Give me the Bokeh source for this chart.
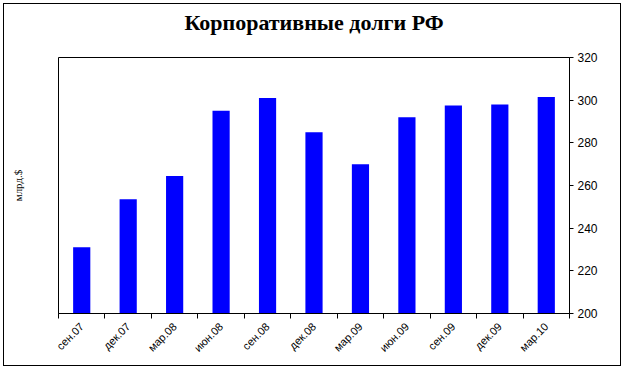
from bokeh.plotting import figure
from bokeh.models import Range1d, FixedTicker, LinearAxis
from bokeh.embed import file_html
from bokeh.resources import INLINE
import math

categories = ["сен.07", "дек.07", "мар.08", "июн.08", "сен.08", "дек.08",
              "мар.09", "июн.09", "сен.09", "дек.09", "мар.10"]
values = [231, 253.5, 264.5, 295, 301, 285, 270, 292, 297.5, 298, 301.5]
y_ticks = [200, 220, 240, 260, 280, 300, 320]
title_text = "Корпоративные долги РФ"
y_label = "млрд.$"

n = len(categories)
centers = [i + 0.5 for i in range(n)]

p = figure(width=616, height=361, output_backend="svg", toolbar_location=None,
           x_range=Range1d(0, n), y_range=Range1d(200, 320),
           y_axis_location="right",
           min_border_left=54, min_border_right=51, min_border_top=53, min_border_bottom=52)
p.frame_width = 511
p.frame_height = 256


def label_axis(text, size, font, style, standoff):
    ax = LinearAxis(ticker=FixedTicker(ticks=[]))
    ax.axis_line_color = None
    ax.major_tick_line_color = None
    ax.minor_tick_line_color = None
    ax.major_tick_out = 0
    ax.major_tick_in = 0
    ax.minor_tick_out = 0
    ax.minor_tick_in = 0
    ax.major_label_standoff = 0
    ax.major_label_text_font_size = "0px"
    ax.axis_label = text
    ax.axis_label_text_font = font
    ax.axis_label_text_font_size = size
    ax.axis_label_text_font_style = style
    ax.axis_label_text_color = "black"
    ax.axis_label_standoff = standoff
    return ax


p.add_layout(label_axis(title_text, "22px", "Liberation Serif", "bold", 23), "above")
p.add_layout(label_axis(y_label, "11px", "Liberation Serif", "normal", 35), "left")

p.vbar(x=centers, top=values, bottom=200, width=0.37, color="#0000FF", line_color=None)

p.xgrid.visible = False
p.ygrid.visible = False
p.outline_line_color = "black"
p.outline_line_width = 1
p.background_fill_color = "white"
p.border_fill_color = "white"

xa = p.below[0]
xa.ticker = FixedTicker(ticks=centers, minor_ticks=list(range(n + 1)))
xa.major_label_overrides = {c: lab for c, lab in zip(centers, categories)}
xa.major_label_orientation = math.pi / 4
xa.major_tick_out = 0
xa.major_tick_in = 0
xa.minor_tick_out = 5
xa.minor_tick_in = 0
xa.minor_tick_line_color = "black"
xa.axis_line_color = "black"
xa.major_label_text_font = "Liberation Sans"
xa.major_label_text_font_size = "11px"
xa.major_label_text_color = "black"
xa.major_label_standoff = 6

ya = p.right[0]
ya.ticker = FixedTicker(ticks=y_ticks)
ya.major_tick_out = 4
ya.major_tick_in = 0
ya.minor_tick_out = 0
ya.minor_tick_in = 0
ya.axis_line_color = "black"
ya.major_label_text_font = "Liberation Sans"
ya.major_label_text_font_size = "12px"
ya.major_label_text_color = "black"
ya.major_label_standoff = 4

p.styles = {"border": "1px solid black", "box-sizing": "border-box", "margin": "3px"}

open("out.html", "w").write(file_html(p, INLINE))
